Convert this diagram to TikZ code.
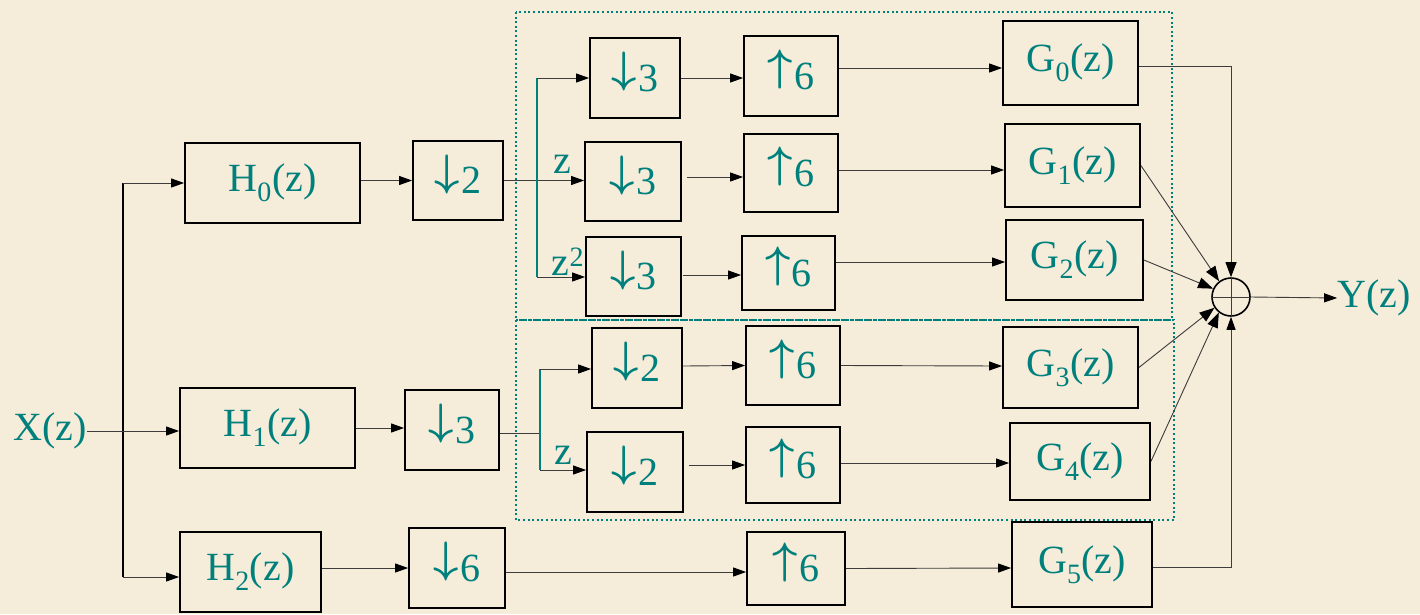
\documentclass[tikz,border=0pt]{standalone}
\usepackage{graphicx}
\usepackage{fontspec}
\setmainfont{Liberation Serif}
\usetikzlibrary{arrows.meta}
\definecolor{bg}{RGB}{245,236,218}
\definecolor{tl}{RGB}{0,128,124}
\definecolor{ln}{RGB}{60,60,60}
\newcommand{\dn}{\smash{\raisebox{8.3pt}{\scalebox{4.4}{\normalsize\boldmath$\downarrow$}}}\kern1pt}
\newcommand{\up}{\smash{\raisebox{8.3pt}{\scalebox{4.4}{\normalsize\boldmath$\uparrow$}}}\kern1pt}
\begin{document}
\begin{tikzpicture}[x=1pt,y=-1pt,
  blk/.style={draw=black, line width=1.8pt, text=tl, inner sep=0pt, font=\fontsize{40}{48}\selectfont},
  lbl/.style={text=tl, inner sep=0pt, font=\fontsize{40}{48}\selectfont},
  con/.style={draw=ln, line width=0.9pt, -{Triangle[length=13pt,width=9pt,color=black]}},
  big/.style={-{Triangle[length=15pt,width=11pt,color=black]}},
  plain/.style={draw=ln, line width=0.9pt},
  br/.style={draw=tl, line width=1.3pt},
  dotbox/.style={draw=tl, line width=2pt, dash pattern=on 2pt off 2.6pt}]
\fill[bg] (0,0) rectangle (1420,614);
% first stage
\node[lbl] (X) at (50,431) {X(z)};
\node[blk, minimum width=175pt, minimum height=80pt] (H0) at (272.5,183) {H\textsubscript{0}(z)};
\node[blk, minimum width=175pt, minimum height=80pt] (H1) at (267.5,428) {H\textsubscript{1}(z)};
\node[blk, minimum width=141pt, minimum height=80pt] (H2) at (250.5,572) {H\textsubscript{2}(z)};
\node[blk, minimum width=90pt, minimum height=79pt] (D2) at (458,180.5) {\dn2};
\node[blk, minimum width=94pt, minimum height=80pt] (D3) at (452,430) {\dn3};
\node[blk, minimum width=96pt, minimum height=80pt] (D6) at (457,568) {\dn6};
% dotted groups
\draw[dotbox] (516,12) rectangle (1172,320);
\draw[dotbox] (516,320) rectangle (1174,520);
% second stage
\node[blk, minimum width=90pt, minimum height=80pt] (a1) at (635,78) {\dn3};
\node[blk, minimum width=96pt, minimum height=79pt] (a2) at (633,181.5) {\dn3};
\node[blk, minimum width=95pt, minimum height=79pt] (a3) at (633.5,276.5) {\dn3};
\node[blk, minimum width=90pt, minimum height=80pt] (a4) at (637,368) {\dn2};
\node[blk, minimum width=96pt, minimum height=80pt] (a5) at (635,472) {\dn2};
\node[blk, minimum width=94pt, minimum height=80pt] (U1) at (791,76) {\up6};
\node[blk, minimum width=94pt, minimum height=78pt] (U2) at (791,173) {\up6};
\node[blk, minimum width=93pt, minimum height=74pt] (U3) at (788.5,273) {\up6};
\node[blk, minimum width=94pt, minimum height=79pt] (U4) at (793,365.5) {\up6};
\node[blk, minimum width=94pt, minimum height=76pt] (U5) at (793,465) {\up6};
\node[blk, minimum width=98pt, minimum height=73pt] (U6) at (796,568.5) {\up6};
\node[blk, minimum width=135pt, minimum height=84pt] (G0) at (1070.5,63) {G\textsubscript{0}(z)};
\node[blk, minimum width=135pt, minimum height=83pt] (G1) at (1072.5,165.5) {G\textsubscript{1}(z)};
\node[blk, minimum width=137pt, minimum height=80pt] (G2) at (1074.5,260) {G\textsubscript{2}(z)};
\node[blk, minimum width=135pt, minimum height=81pt] (G3) at (1070.5,367.5) {G\textsubscript{3}(z)};
\node[blk, minimum width=140pt, minimum height=77pt] (G4) at (1080,461.5) {G\textsubscript{4}(z)};
\node[blk, minimum width=140pt, minimum height=85pt] (G5) at (1082,564.5) {G\textsubscript{5}(z)};
\node[draw=black, line width=1.6pt, circle, minimum size=38pt, inner sep=0pt] (sum) at (1231,297) {};
\draw[plain] (sum.north) -- (sum.south) (sum.west) -- (sum.east);
\node[lbl] (Y) at (1374,298) {Y(z)};
% input splitting
\coordinate (t0) at (123,183);
\coordinate (t2) at (123,577);
\draw[black, line width=1.3pt] (t0) -- (t2);
\draw[con] (X.east) -- (H1.west |- X.east);
\draw[con] (t0) -- (H0.west |- t0);
\draw[con] (t2) -- (H2.west |- t2);
\draw[con] (H0.east |- D2.west) -- (D2.west);
\draw[con] (H1.east) -- (D3.west |- H1.east);
\draw[con] (H2.east |- D6.west) -- (D6.west);
% upper branch
\coordinate (b1t) at (537,78);
\coordinate (b1b) at (537,277);
\draw[con] (D2.east) -- (a2.west |- D2.east);
\draw[br] (b1t) -- (b1b);
\draw[con] (b1t) -- (a1.west |- b1t);
\draw[con] (b1b) -- (a3.west |- b1b);
\node[lbl] (z1) at (562,164) {z};
\node[lbl] (z2) at (568,262) {z\textsuperscript{2}};
% lower branch
\coordinate (b2m) at (540,433);
\coordinate (b2t) at (540,369);
\coordinate (b2b) at (540,470);
\draw[plain] ([yshift=-3pt]D3.east) -- (b2m);
\draw[br] (b2t) -- (b2b);
\draw[con] (b2t) -- (a4.west |- b2t);
\draw[con] (b2b) -- (a5.west |- b2b);
\node[lbl] (z3) at (563,455) {z};
% rows
\draw[con] (a1.east) -- (U1.west |- a1.east);
\draw[con] ([yshift=8pt]U1.east) -- ([yshift=-5pt]G0.west);
\draw[con] ([xshift=5pt,yshift=4.5pt]a2.east) -- ([yshift=-4pt]U2.west);
\draw[con] ([yshift=3pt]U2.east) -- ([yshift=-4.5pt]G1.west);
\draw[con] ([xshift=1pt,yshift=1.5pt]a3.east) -- ([yshift=-2pt]U3.west);
\draw[con] ([yshift=11pt]U3.east) -- ([yshift=-2pt]G2.west);
\draw[con] ([yshift=2pt]a4.east) -- (U4.west);
\draw[con] (U4.east) -- ([yshift=1.5pt]G3.west);
\draw[con] ([xshift=5pt,yshift=7pt]a5.east) -- (U5.west);
\draw[con] ([yshift=2pt]U5.east) -- ([yshift=-1.5pt]G4.west);
\draw[con] ([yshift=-4pt]D6.east) -- ([yshift=-3.5pt]U6.west);
\draw[con] (U6.east) -- ([yshift=-3.5pt]G5.west);
% summation
\draw[con, big] ([yshift=-3pt]G0.east) -| (sum.north);
\draw[con] ([yshift=-3pt]G5.east) -| (sum.south);
\draw[con, big] (G1.east) -- (sum.127);
\draw[con, big] (G2.east) -- (sum.155);
\draw[con, big] (G3.east) -- (sum.213);
\draw[con, big] (G4.east) -- (sum.232);
\draw[con] (sum.east) -- (Y.west);
\end{tikzpicture}
\end{document}
